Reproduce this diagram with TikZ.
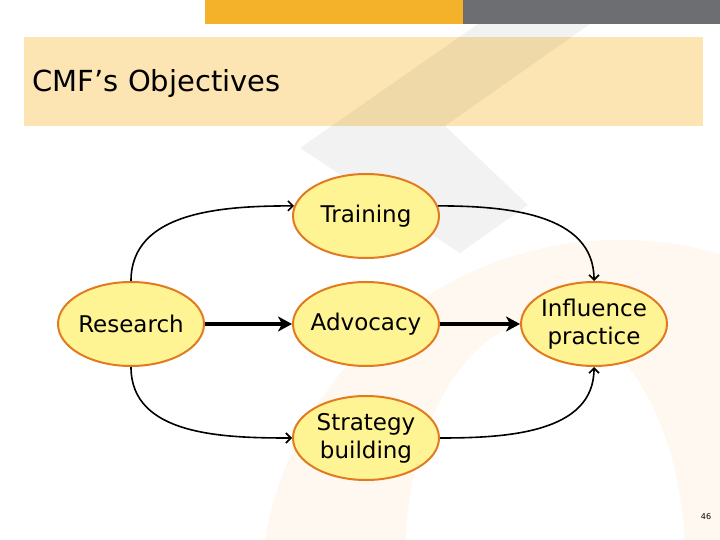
\documentclass[tikz,border=0pt]{standalone}
\usepackage{fontspec}
\setmainfont{DejaVu Sans}
\usetikzlibrary{shapes.geometric, arrows.meta}
\definecolor{baryellow}{HTML}{F4B12A}
\definecolor{bargray}{HTML}{6D6E71}
\definecolor{titleband}{HTML}{FDE5B3}
\definecolor{goalfill}{HTML}{FFF494}
\definecolor{goalborder}{HTML}{E27A20}
\definecolor{faintorange}{HTML}{FFF8F0}
\begin{document}
\begin{tikzpicture}[x=1pt, y=-1pt,
    goal/.style={ellipse, draw=goalborder, line width=2pt, fill=goalfill,
        minimum width=146pt, minimum height=84pt, inner sep=-20pt, align=center,
        font=\fontsize{23}{28}\selectfont},
    link/.style={-{Straight Barb[length=5pt, width=10pt]}, line width=1.6pt},
    mainlink/.style={-{Stealth[length=14pt, width=15pt, inset=4pt]}, line width=4pt}
]
    \useasboundingbox (0,0) rectangle (720,540);

    % watermark
    \begin{scope}
        \clip (0,0) rectangle (720,540);
        \fill[faintorange, even odd rule] (620,600) circle (360pt) (545,560) ellipse (140pt and 240pt);
    \end{scope}
    \fill[baryellow] (205,0) rectangle (463,24);
    \fill[bargray] (463,0) rectangle (720,24);
    \fill[titleband] (24,37) rectangle (703,126);
    \fill[black, fill opacity=0.05] (300,148) -- (478,24) -- (590,24) -- (445,126)
        -- (528,205) -- (460,253) -- cycle;

    \node[anchor=west, font=\fontsize{29}{34}\selectfont] at (29,84) (title) {CMF’s Objectives};

    \node[goal] at (131,324) (research) {Research};
    \node[goal] at (366,216) (training) {Training};
    \node[goal] at (366,324) (advocacy) {Advocacy};
    \node[goal] at (366,438) (strategy) {Strategy\\building};
    \node[goal] at (594,324) (influence) {Influence\\practice};

    \draw[mainlink] (research) -- (advocacy);
    \draw[mainlink] (advocacy) -- (influence);
    \draw[link] (research.north) to[out=90, in=180] (training.172);
    \draw[link] (training.8) to[out=0, in=90] (influence.north);
    \draw[link] (research.south) to[out=-90, in=180] (strategy.west);
    \draw[link] (strategy.east) to[out=0, in=-90] (influence.south);

    \node[font=\fontsize{8}{10}\selectfont] at (706,517) (pagenum) {46};
\end{tikzpicture}
\end{document}
